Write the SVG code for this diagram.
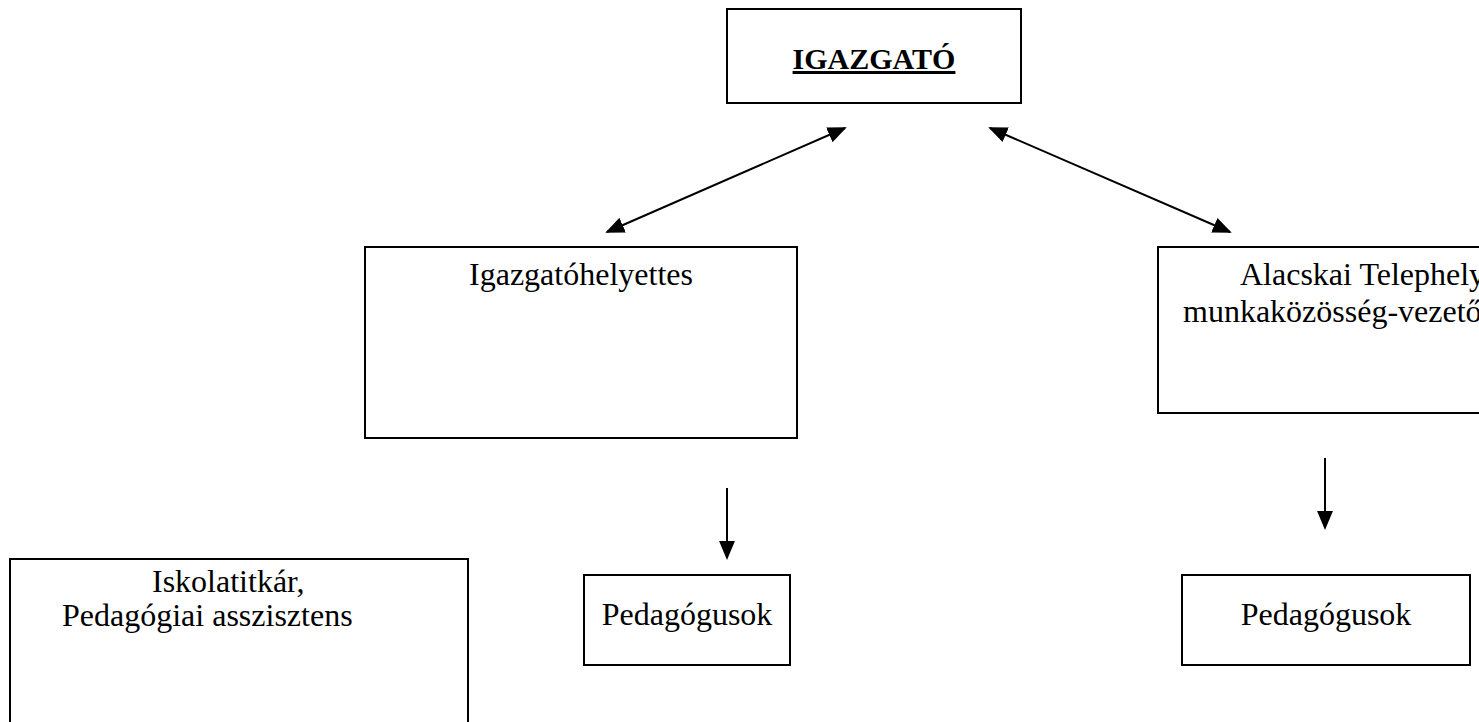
<svg xmlns="http://www.w3.org/2000/svg" width="1479" height="722" viewBox="0 0 1479 722">
<style>
.box{fill:#fff;stroke:#000;stroke-width:2}
.t{font-family:"Liberation Serif","Times New Roman",serif;font-size:32px;fill:#000}
.c{text-anchor:middle}
.b{font-weight:bold;text-decoration:underline;font-size:30px}
.con{stroke:#000;stroke-width:2;fill:none}
</style>
<defs>
<marker id="ah" viewBox="0 0 10 10" refX="9" refY="5" markerWidth="19" markerHeight="19" markerUnits="userSpaceOnUse" orient="auto-start-reverse">
<path d="M0,0.8 L10,5 L0,9.2 z" fill="#000"/>
</marker>
</defs>
<rect width="1479" height="722" fill="#fff"/>
<g id="igazgato">
<rect class="box" x="727" y="9" width="294" height="94"/>
<text class="t c b" x="874" y="69">IGAZGATÓ</text>
</g>
<g id="helyettes">
<rect class="box" x="365" y="247" width="432" height="191"/>
<text class="t c" x="581" y="285">Igazgatóhelyettes</text>
</g>
<g id="alacskai">
<rect class="box" x="1158" y="247" width="340" height="166"/>
<text class="t" x="1240" y="285">Alacskai Telephely</text>
<text class="t" x="1183" y="322">munkaközösség-vezető</text>
</g>
<g id="iskolatitkar">
<rect class="box" x="10" y="559" width="458" height="180"/>
<text class="t" x="152" y="592">Iskolatitkár,</text>
<text class="t" x="62" y="626">Pedagógiai asszisztens</text>
</g>
<g id="pedagogusok1">
<rect class="box" x="584" y="575" width="206" height="90"/>
<text class="t c" x="687" y="625">Pedagógusok</text>
</g>
<g id="pedagogusok2">
<rect class="box" x="1182" y="575" width="288" height="90"/>
<text class="t c" x="1326" y="625">Pedagógusok</text>
</g>
<g id="connectors">
<line class="con" x1="845" y1="128" x2="607" y2="232" marker-start="url(#ah)" marker-end="url(#ah)"/>
<line class="con" x1="990" y1="128" x2="1230" y2="232" marker-start="url(#ah)" marker-end="url(#ah)"/>
<line class="con" x1="727" y1="488" x2="727" y2="558" marker-end="url(#ah)"/>
<line class="con" x1="1325" y1="458" x2="1325" y2="528" marker-end="url(#ah)"/>
</g>
</svg>
